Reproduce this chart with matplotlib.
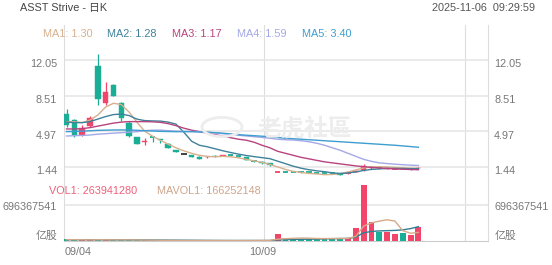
import matplotlib
matplotlib.use('Agg')
import matplotlib.pyplot as plt
from matplotlib.patches import Rectangle, Circle

plt.rcParams['font.family'] = ['Liberation Sans', 'Noto Sans CJK SC', 'DejaVu Sans']

# ---------------- data ----------------
title = "ASST Strive - 日K"
timestamp = "2025-11-06  09:29:59"
date_labels = ["09/04", "10/09"]
date_label_idx = [0, 25]

opens  = [6.71, 6.11, 4.62, 5.51, 11.48, 7.83, 9.59, 7.83, 5.78, 4.39,
          3.92, 4.42, 4.19, 3.73, 3.13, 2.70, 2.63, 2.40, 2.40, 2.56,
          2.55, 2.63, 2.57, 2.40, 2.06, 1.97, 1.81, 0.93, 0.97, 0.96,
          0.95, 0.93, 0.90, 0.86, 0.82, 0.81, 0.80, 0.98, 1.10, 1.30,
          1.40, 1.28, 1.25, 1.32, 1.22, 1.30]
highs  = [7.18, 6.21, 5.61, 6.51, 12.67, 9.92, 9.65, 7.93, 6.01, 4.45,
          4.29, 4.42, 4.19, 3.86, 3.15, 2.70, 2.65, 2.50, 2.55, 2.60,
          2.64, 2.70, 2.60, 2.45, 2.12, 2.00, 1.85, 1.00, 1.00, 0.99,
          1.00, 0.96, 0.93, 0.89, 0.85, 0.84, 0.88, 1.15, 1.70, 1.55,
          1.45, 1.40, 1.35, 1.36, 1.30, 1.42]
lows   = [5.42, 4.45, 4.52, 5.45, 7.60, 7.60, 8.45, 6.04, 4.42, 3.70,
          3.63, 3.95, 3.80, 3.28, 2.90, 2.70, 2.40, 2.20, 2.35, 2.48,
          2.52, 2.50, 2.48, 2.12, 1.95, 1.78, 1.58, 0.90, 0.92, 0.90,
          0.88, 0.88, 0.85, 0.82, 0.78, 0.62, 0.78, 0.95, 1.05, 1.25,
          1.25, 1.22, 1.20, 1.20, 1.18, 1.25]
closes = [5.61, 4.62, 5.29, 6.28, 8.17, 8.87, 8.53, 6.28, 4.52, 3.70,
          3.98, 4.36, 4.12, 3.30, 2.96, 2.70, 2.46, 2.27, 2.46, 2.50,
          2.61, 2.58, 2.53, 2.14, 2.02, 1.81, 1.61, 0.96, 0.94, 0.93,
          0.93, 0.92, 0.88, 0.84, 0.80, 0.64, 0.85, 1.07, 1.57, 1.42,
          1.30, 1.35, 1.30, 1.24, 1.28, 1.37]
volumes = [30e6, 20e6, 15e6, 15e6, 42e6, 25e6, 15e6, 20e6, 20e6, 15e6,
           12e6, 10e6, 10e6, 12e6, 10e6, 8e6, 10e6, 10e6, 8e6, 8e6,
           8e6, 8e6, 8e6, 10e6, 10e6, 12e6, 12e6, 135e6, 50e6, 45e6,
           48e6, 45e6, 50e6, 45e6, 48e6, 50e6, 52e6, 257e6, 1083e6, 362e6,
           180e6, 180e6, 129e6, 149e6, 116e6, 263941280]

ma_names  = ["MA1", "MA2", "MA3", "MA4", "MA5"]
ma_last   = ["1.30", "1.28", "1.17", "1.59", "3.40"]
ma1 = [5.95, 5.94, 5.84, 6.10, 6.60, 7.40, 7.77, 7.65, 6.90, 5.90,
       5.00, 4.50, 4.10, 3.70, 3.35, 3.05, 2.80, 2.60, 2.50, 2.45,
       2.50, 2.45, 2.35, 2.20, 2.05, 1.90, 1.70, 1.45, 1.20, 1.00,
       0.90, 0.80, 0.75, 0.68, 0.70, 0.78, 0.95, 1.15, 1.35, 1.45,
       1.47, 1.45, 1.40, 1.36, 1.32, 1.30]
ma2 = [5.90, 5.85, 5.85, 5.95, 6.20, 6.45, 6.65, 6.70, 6.55, 6.20,
       6.05, 6.02, 6.00, 5.90, 5.70, 4.90, 4.00, 3.60, 3.45, 3.25,
       3.05, 2.88, 2.72, 2.58, 2.47, 2.37, 2.27, 2.02, 1.77, 1.52,
       1.32, 1.17, 1.06, 0.97, 0.86, 0.78, 0.85, 0.95, 1.10, 1.20,
       1.25, 1.30, 1.30, 1.29, 1.28, 1.28]
ma3 = [5.22, 5.22, 5.25, 5.35, 5.50, 5.65, 5.80, 5.90, 5.95, 5.95,
       5.95, 5.93, 5.88, 5.75, 5.55, 5.30, 5.10, 4.95, 4.80, 4.65,
       4.50, 4.35, 4.20, 4.10, 3.90, 3.60, 3.35, 3.00, 2.80, 2.60,
       2.40, 2.25, 2.10, 1.95, 1.85, 1.75, 1.65, 1.55, 1.47, 1.40,
       1.35, 1.30, 1.25, 1.22, 1.19, 1.17]
ma4 = [4.52, 4.55, 4.58, 4.62, 4.70, 4.75, 4.80, 4.85, 4.90, 4.95,
       5.05, 5.10, 5.10, 5.05, 5.00, 4.98, 4.97, 4.95, 4.90, 4.82,
       4.75, 4.68, 4.60, 4.52, 4.45, 4.38, 4.30, 4.20, 4.15, 4.12,
       4.05, 3.95, 3.80, 3.60, 3.35, 3.10, 2.80, 2.50, 2.20, 2.00,
       1.85, 1.78, 1.72, 1.67, 1.62, 1.59]
ma5_idx = [0, 2, 4, 6, 8, 10, 12, 14, 16, 18, 20, 22, 24, 26, 28, 30,
           32, 34, 36, 38, 40, 42, 44, 45]
ma5 = [4.95, 5.00, 5.08, 5.12, 5.12, 5.05, 4.98, 4.95, 4.95, 4.90,
       4.80, 4.65, 4.55, 4.45, 4.30, 4.20, 4.10, 4.00, 3.90, 3.80,
       3.70, 3.60, 3.47, 3.40]

vol_label = "VOL1: 263941280"
mavol_label = "MAVOL1: 166252148"
mavol1 = [25e6, 25e6, 24e6, 22e6, 24e6, 23e6, 22e6, 22e6, 22e6, 20e6,
          18e6, 16e6, 14e6, 12e6, 11e6, 10e6, 10e6, 10e6, 9e6, 9e6,
          9e6, 8e6, 8e6, 9e6, 9e6, 10e6, 11e6, 35e6, 45e6, 52e6,
          58e6, 55e6, 48e6, 47e6, 48e6, 48e6, 50e6, 90e6, 290e6, 350e6,
          385e6, 410e6, 385e6, 200e6, 150e6, 166252148]
mavol2 = [25e6, 25e6, 25e6, 24e6, 24e6, 24e6, 23e6, 22e6, 22e6, 21e6,
          20e6, 19e6, 18e6, 17e6, 16e6, 15e6, 14e6, 13e6, 12e6, 11e6,
          10e6, 10e6, 10e6, 10e6, 10e6, 10e6, 10e6, 20e6, 25e6, 30e6,
          33e6, 35e6, 38e6, 40e6, 45e6, 48e6, 50e6, 75e6, 160e6, 185e6,
          195e6, 200e6, 205e6, 215e6, 240e6, 277e6]
vol_tick = 696367541
vol_tick_label = "696367541"
vol_unit = "亿股"
price_ticks = [1.44, 4.97, 8.51, 12.05]
price_tick_labels = ["1.44", "4.97", "8.51", "12.05"]
watermark = "老虎社區"

# ---------------- style ----------------
RED = '#F2456A'
TEAL = '#1AAE97'
FLAT = '#333333'
GRID = '#E6E6E6'
TXT = '#777777'
ma_colors = ['#D7B08E', '#3F8299', '#B8437F', '#A3A8E6', '#3F9DD0']
vol_colors = ['#D7A98A', '#2F7F90']

W, H = 552, 265
fig = plt.figure(figsize=(W / 100, H / 100), dpi=100)
fig.patch.set_facecolor('white')

def fx(px):
    return px / W

def fy(py):
    return 1 - py / H

L, R = 64, 488
ax = fig.add_axes([fx(L), fy(180), fx(R) - fx(L), fy(25) - fy(180)])
axv = fig.add_axes([fx(L), fy(241), fx(R) - fx(L), fy(169) - fy(241)])
axv.patch.set_alpha(0)
ax.patch.set_alpha(0)

x0, step = 66.5, 7.82
xlim = ((L - x0) / step, (R - x0) / step)
for a in (ax, axv):
    a.set_xlim(*xlim)
    a.set_xticks([])
    a.set_yticks([])
    for s in a.spines.values():
        s.set_visible(False)
    for s in ('left', 'right'):
        a.spines[s].set_visible(True)
        a.spines[s].set_color('#DDDDDD')
        a.spines[s].set_linewidth(0.8)
    a.axvline(25.25, color='#DDDDDD', lw=0.8, zorder=0)
    a.axvline(51.0, color='#DDDDDD', lw=0.8, zorder=0)
axv.spines['bottom'].set_visible(True)
axv.spines['bottom'].set_color('#CCCCCC')
axv.spines['bottom'].set_linewidth(0.8)

ax.set_ylim(0.148, 15.55)
axv.set_ylim(0, 2 * vol_tick)

for v in price_ticks:
    ax.axhline(v, color=GRID, lw=1.2, zorder=0)
axv.axhline(vol_tick, color=GRID, lw=1.2, zorder=0)

# watermark
fig.text(fx(305), fy(129), watermark, fontsize=17, color='#EDEDED',
         family=['Noto Sans CJK TC'], fontweight='bold', ha='center', va='center',
         zorder=0, style='italic')
fig.patches.append(Circle((fx(222), fy(127)), 20 / W, transform=fig.transFigure,
                          fill=False, ec='#EDEDED', lw=2.0, zorder=0))

# candles
bw = 0.7
for i, (o, h, l, c) in enumerate(zip(opens, highs, lows, closes)):
    col = RED if c > o else (TEAL if c < o else FLAT)
    ax.vlines(i, l, h, color=col, lw=0.9, zorder=3)
    body = abs(c - o)
    if body < 0.06:
        ax.hlines((o + c) / 2, i - bw / 2, i + bw / 2, color=col, lw=1.3, zorder=4)
    else:
        ax.add_patch(Rectangle((i - bw / 2, min(o, c)), bw, body, fc=col, ec=col,
                               lw=0.3, zorder=4))
    axv.bar(i, volumes[i], width=0.75, color=col, zorder=3)

idx = list(range(len(closes)))
for vals, col, xs in zip([ma1, ma2, ma3, ma4, ma5], ma_colors,
                         [idx, idx, idx, idx, ma5_idx]):
    ax.plot(xs, vals, color=col, lw=1.0, zorder=5)

axv.plot(idx, mavol2, color=vol_colors[1], lw=1.0, zorder=5)
axv.plot(idx, mavol1, color=vol_colors[0], lw=1.0, zorder=5)

FS = 7.8
# price tick labels
for v, lab in zip(price_ticks, price_tick_labels):
    ax.annotate(lab, xy=(0, v), xycoords=ax.get_yaxis_transform(),
                xytext=(-5.0, -3.0), textcoords='offset points',
                ha='right', va='center', fontsize=FS, color=TXT)
    ax.annotate(lab, xy=(1, v), xycoords=ax.get_yaxis_transform(),
                xytext=(4.5, -3.0), textcoords='offset points',
                ha='left', va='center', fontsize=FS, color=TXT)

for side, xoff, ha in ((0, -5.0, 'right'), (1, 4.5, 'left')):
    axv.annotate(vol_tick_label, xy=(side, vol_tick), xycoords=axv.get_yaxis_transform(),
                 xytext=(xoff, -1.5), textcoords='offset points',
                 ha=ha, va='center', fontsize=FS, color=TXT)
    axv.annotate(vol_unit, xy=(side, 0), xycoords=axv.get_yaxis_transform(),
                 xytext=(xoff, 3.8), textcoords='offset points',
                 ha=ha, va='center', fontsize=FS, color=TXT)

# date labels
for d, i in zip(date_labels, date_label_idx):
    if i == 0:
        axv.annotate(d, xy=(0, 0), xycoords='axes fraction', xytext=(0.8, -8),
                     textcoords='offset points', ha='left', va='center',
                     fontsize=FS, color=TXT)
    else:
        axv.annotate(d, xy=(i, 0), xycoords=('data', 'axes fraction'), xytext=(0.5, -8),
                     textcoords='offset points', ha='center', va='center',
                     fontsize=FS, color=TXT)

# header
fig.text(fx(20.5), fy(8), title, fontsize=FS, color='#444444', ha='left', va='center')
fig.text(fx(535), fy(8), timestamp, fontsize=FS, color='#555555', ha='right', va='center')

ma_x = [42.7, 107.3, 172.3, 236.7, 301.7]
for name, val, col, px in zip(ma_names, ma_last, ma_colors, ma_x):
    fig.text(fx(px), fy(34), f"{name}: {val}", fontsize=FS, color=col,
             ha='left', va='center')

fig.text(fx(49), fy(191), vol_label, fontsize=FS, color='#F0607A', ha='left', va='center')
fig.text(fx(156.7), fy(191), mavol_label, fontsize=FS, color='#CFA58A', ha='left', va='center')

fig.savefig('out.png', dpi=100, facecolor='white')
